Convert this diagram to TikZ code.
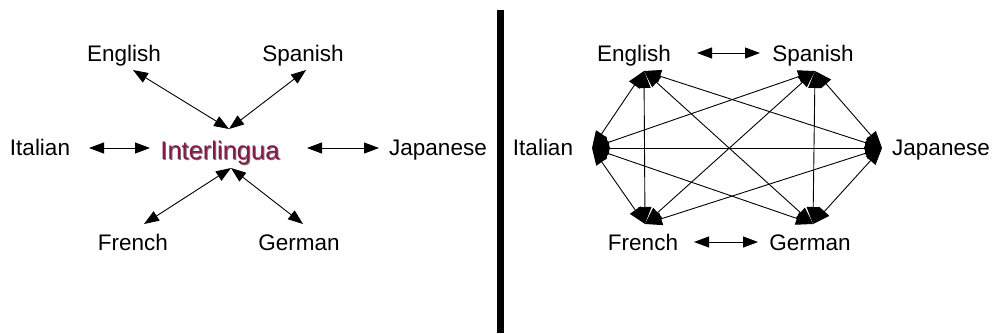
\documentclass[tikz,border=0pt]{standalone}
\usepackage{fontspec}
\setmainfont{Liberation Sans}
\usetikzlibrary{arrows.meta}
\definecolor{inter}{RGB}{135,25,70}
\begin{document}
\begin{tikzpicture}[x=1pt,y=-1pt,
  lang/.style={font=\fontsize{22.5}{24}\selectfont, inner sep=0pt, anchor=base},
  conn/.style={line width=0.9pt, {Triangle[length=15pt,width=11pt]}-{Triangle[length=15pt,width=11pt]}},
  edge2/.style={line width=0.9pt, {Triangle[length=17pt,width=13pt]}-{Triangle[length=17pt,width=13pt]}}]
\useasboundingbox (0,0) rectangle (993,333);
% ---------- left panel ----------
\node[lang] (lE) at (124,61) {English};
\node[lang] (lS) at (303,61) {Spanish};
\node[lang] (lI) at (40,155) {Italian};
\node[lang] (lJ) at (438,155) {Japanese};
\node[lang] (lF) at (133,250) {French};
\node[lang] (lG) at (299,250) {German};
\node[lang, text=black!55, font=\fontsize{25.5}{27}\selectfont] at (221,160) {Interlingua};
\node[lang, text=inter, font=\fontsize{25.5}{27}\selectfont] (hub) at (220,159) {Interlingua};
\coordinate (hubN) at (229,129);
\coordinate (hubS) at (231,168);
\coordinate (pE) at (133,70);
\coordinate (pS) at (306,70);
\coordinate (pI) at (89,148);
\coordinate (hubW) at (150,148);
\coordinate (hubE) at (307,148);
\coordinate (pJ) at (379,148);
\coordinate (pF) at (144,224);
\coordinate (pG) at (303,224);
\draw[conn] (pE) -- (hubN);
\draw[conn] (pS) -- (hubN);
\draw[conn] (pI) -- (hubW);
\draw[conn] (hubE) -- (pJ);
\draw[conn] (pF) -- (hubS);
\draw[conn] (hubS) -- (pG);
% ---------- divider ----------
\fill (496.5,10) rectangle (503.5,333);
% ---------- right panel ----------
\node[lang] (rE) at (634,61) {English};
\node[lang] (rS) at (813,61) {Spanish};
\node[lang] (rI) at (543,155) {Italian};
\node[lang] (rJ) at (941,155) {Japanese};
\node[lang] (rF) at (643,250) {French};
\node[lang] (rG) at (810,250) {German};
\coordinate (esA) at (697,53);
\coordinate (esB) at (760,53);
\coordinate (fgA) at (694,242);
\coordinate (fgB) at (758,242);
\draw[conn] (esA) -- (esB);
\draw[conn] (fgA) -- (fgB);
\coordinate (vE) at (644,71);
\coordinate (vS) at (815,71);
\coordinate (vI) at (592,148);
\coordinate (vJ) at (882,148);
\coordinate (vF) at (645,224);
\coordinate (vG) at (813,224);
\foreach \a/\b in {vE/vI,vE/vF,vE/vJ,vE/vG,vS/vI,vS/vF,vS/vG,vS/vJ,vI/vJ,vI/vF,vI/vG,vJ/vF,vJ/vG}
  \draw[edge2] (\a) -- (\b);
\end{tikzpicture}
\end{document}
